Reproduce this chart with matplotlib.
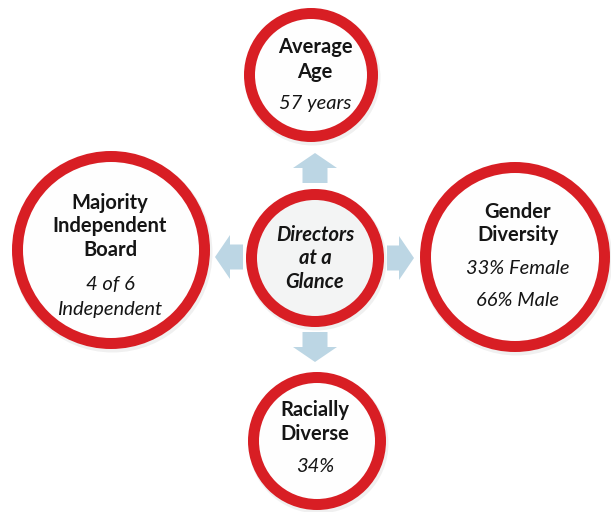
"""Directors at a Glance infographic."""

import matplotlib.pyplot as plt
from matplotlib.patches import Circle, FancyArrow

# content
center_label = ["Directors", "at a", "Glance"]
node_titles = [
    ["Average", "Age"],
    ["Majority", "Independent", "Board"],
    ["Gender", "Diversity"],
    ["Racially", "Diverse"],
]
node_values = [
    ["57 years"],
    ["4 of 6", "Independent"],
    ["33% Female", "66% Male"],
    ["34%"],
]

# layout in pixel units (y grows downward)
W, H = 611, 512
center = (315, 258, 69)
nodes = [
    # cx, cy, r, title_y, title_step, value_y, value_step, text_x
    (311, 75, 67, 47, 25, 104, 25, 315),
    (111, 250, 99, 203, 23.5, 284, 25, 110),
    (515, 257, 95, 212, 23, 268, 33, 518),
    (317, 441, 69, 410, 23.5, 466, 25, 315),
]
# arrows: start x, start y, dx, dy
arrows = [
    (315, 183, 0, -30),
    (243, 257, -28, 0),
    (387, 258, 27, 0),
    (315, 332, 0, 30),
]

RED = "#D81E24"
ARROW = "#BCD6E4"
FONT = ["Lato", "DejaVu Sans"]
RING = 11
FS = 14.5


def ring(ax, cx, cy, r, fill):
    ax.add_patch(Circle((cx + 1.5, cy + 2.5), r + 1, color="#000000", alpha=0.06, lw=0, zorder=1))
    ax.add_patch(Circle((cx, cy), r, color=RED, lw=0, zorder=2))
    ax.add_patch(Circle((cx, cy), r - RING, color=fill, lw=0, zorder=3))


fig = plt.figure(figsize=(W / 100, H / 100), dpi=100)
ax = fig.add_axes([0, 0, 1, 1])
ax.set_xlim(0, W)
ax.set_ylim(H, 0)
ax.set_aspect("equal")
ax.axis("off")

for x, y, dx, dy in arrows:
    ax.add_patch(FancyArrow(x, y, dx, dy, width=25, head_width=44, head_length=15,
                            length_includes_head=True, color=ARROW, lw=0, zorder=1.5))

cx, cy, r = center
ring(ax, cx, cy, r, "#F3F4F4")
for i, line in enumerate(center_label):
    ax.text(cx, 235 + i * 23.5, line, ha="center", va="center", fontsize=FS,
            fontweight="bold", fontstyle="italic", family=FONT, color="#151515", zorder=5)

for (nx, ny, nr, ty, ts, vy, vs, tx), titles, values in zip(nodes, node_titles, node_values):
    ring(ax, nx, ny, nr, "#FEFEFE")
    for i, line in enumerate(titles):
        ax.text(tx, ty + i * ts, line, ha="center", va="center", fontsize=FS,
                fontweight="bold", family=FONT, color="#151515", zorder=5)
    for i, line in enumerate(values):
        ax.text(tx, vy + i * vs, line, ha="center", va="center", fontsize=FS,
                fontstyle="italic", family=FONT, color="#151515", zorder=5)

fig.savefig("out.png", dpi=100)
